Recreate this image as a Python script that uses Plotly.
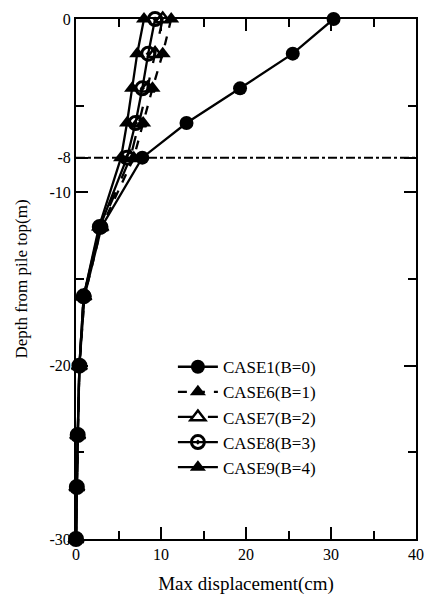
import plotly.graph_objects as go

depth = [0, -2, -4, -6, -8, -12, -16, -20, -24, -27, -30]
case1 = [30.3, 25.5, 19.3, 13.0, 7.8, 3.0, 1.0, 0.4, 0.2, 0.1, 0.0]
case6 = [11.2, 10.2, 9.0, 7.9, 6.8, 3.0, 1.0, 0.4, 0.2, 0.1, 0.0]
case7 = [10.2, 9.3, 8.4, 7.4, 6.4, 2.9, 0.9, 0.4, 0.2, 0.1, 0.0]
case8 = [9.3, 8.5, 7.8, 7.0, 6.0, 2.8, 0.9, 0.4, 0.2, 0.1, 0.0]
case9 = [8.0, 7.2, 6.6, 6.0, 5.3, 2.7, 0.9, 0.4, 0.2, 0.1, 0.0]
names = ["CASE1(B=0)", "CASE6(B=1)", "CASE7(B=2)", "CASE8(B=3)", "CASE9(B=4)"]
ref_depth = -8
ytick_vals = [0, -8, -10, -20, -30]
ytick_text = ["0", "-8", "-10", "-20", "-30"]
xtick_vals = [0, 10, 20, 30, 40]

series = [
    (case1, names[0], "solid", dict(symbol="circle", size=14, color="black")),
    (case6, names[1], "dash", dict(symbol="triangle-up", size=14, color="black")),
    (case7, names[2], "longdash", dict(symbol="triangle-up-open", size=13, color="black", line=dict(width=2.5, color="black"))),
    (case8, names[3], "solid", dict(symbol="circle-open-dot", size=13, color="black", line=dict(width=3, color="black"))),
    (case9, names[4], "solid", dict(symbol="triangle-up", size=14, color="black")),
]

fig = go.Figure()
for xs, nm, dash, mk in series:
    fig.add_trace(go.Scatter(x=xs, y=depth, name=nm, mode="lines+markers",
                             line=dict(color="black", width=2.3, dash=dash),
                             marker=mk, cliponaxis=False))

fig.add_shape(type="line", xref="paper", x0=0, x1=1, yref="y", y0=ref_depth, y1=ref_depth,
              line=dict(color="black", width=2, dash="dashdot"))

font = dict(family="Liberation Serif", size=16, color="black")
fig.update_layout(
    width=435, height=602,
    margin=dict(l=76, r=11, t=19, b=63),
    paper_bgcolor="white", plot_bgcolor="white",
    font=font,
    showlegend=True,
    legend=dict(x=0.285, y=0.365, xanchor="left", yanchor="top", bgcolor="rgba(0,0,0,0)",
                font=dict(family="Liberation Serif", size=17, color="black"),
                tracegroupgap=0, itemwidth=40),
    xaxis=dict(range=[0, 40], tickvals=xtick_vals, ticks="inside", ticklen=12, tickwidth=2,
               showline=True, linewidth=2, linecolor="black", mirror="ticks", showgrid=False,
               zeroline=False, title=dict(text="Max displacement(cm)", standoff=14),
               minor=dict(tickvals=[5, 15, 25, 35], ticks="inside", ticklen=8, tickwidth=2, tickcolor="black"),
               tickcolor="black"),
    yaxis=dict(range=[-30, 0], tickvals=ytick_vals, ticktext=ytick_text, ticks="inside", ticklen=12,
               tickwidth=2, showline=True, linewidth=2, linecolor="black", mirror="ticks",
               showgrid=False, zeroline=False,
               title=dict(text="Depth from pile top(m)", standoff=18, font=dict(size=17)),
               minor=dict(tickvals=[-5, -15, -25], ticks="inside", ticklen=8, tickwidth=2, tickcolor="black"),
               tickcolor="black"),
)

fig.write_html("out.html")
